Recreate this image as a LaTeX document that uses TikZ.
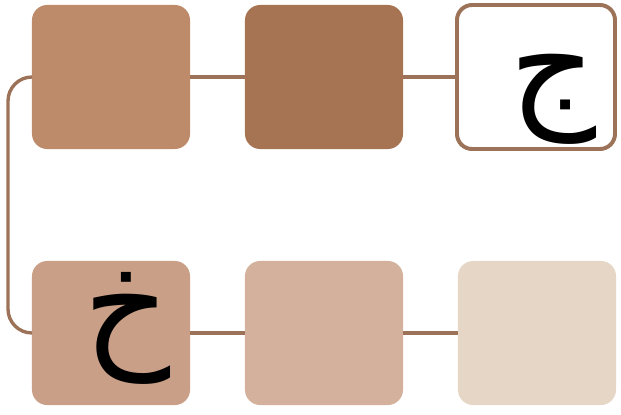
\documentclass[tikz,border=0pt]{standalone}
\usepackage{fontspec}
\newfontfamily\arabicfont[Script=Arabic]{DejaVu Sans}
\TeXXeTstate=1
\usepackage{xcolor}
\definecolor{tanA}{HTML}{BD8B6A}
\definecolor{tanB}{HTML}{A67452}
\definecolor{tanC}{HTML}{C9A087}
\definecolor{tanD}{HTML}{D4B19C}
\definecolor{tanE}{HTML}{E6D6C5}
\definecolor{wire}{HTML}{9C7358}
\begin{document}
\begin{tikzpicture}[x=0.025cm,y=-0.025cm]
	\tikzset{
		tile/.style={rectangle, rounded corners=0.38cm, minimum width=3.95cm, minimum height=3.6cm, inner sep=0pt},
		edge/.style={draw=wire, line width=2.4pt},
		letter/.style={font=\arabicfont\fontsize{96}{100}\selectfont, inner sep=0pt}
	}
	\useasboundingbox (0,0) rectangle (621,415);
		\node[tile, fill=tanA] (b1) at (111,77) {};
		\node[tile, fill=tanB] (b2) at (324,77) {};
		\node[tile, fill=white, draw=wire, line width=2.8pt] (b3) at (536,77) {};
		\node[tile, fill=tanC] (b4) at (111,333) {};
		\node[tile, fill=tanD] (b5) at (324,333) {};
		\node[tile, fill=tanE] (b6) at (537,333) {};
		\node[letter] (jeem) at (553,99) {\beginR ج\endR};
		\node[letter] (khah) at (127,328) {\beginR خ\endR};
	\coordinate (bend) at (8,200);
	\draw[edge] (b1) -- (b2);
	\draw[edge] (b2) -- (b3);
	\draw[edge] (b4) -- (b5);
	\draw[edge] (b5) -- (b6);
	\draw[edge, rounded corners=0.6cm] (b1.west) -| (bend) |- (b4.west);
	\end{tikzpicture}
\end{document}
